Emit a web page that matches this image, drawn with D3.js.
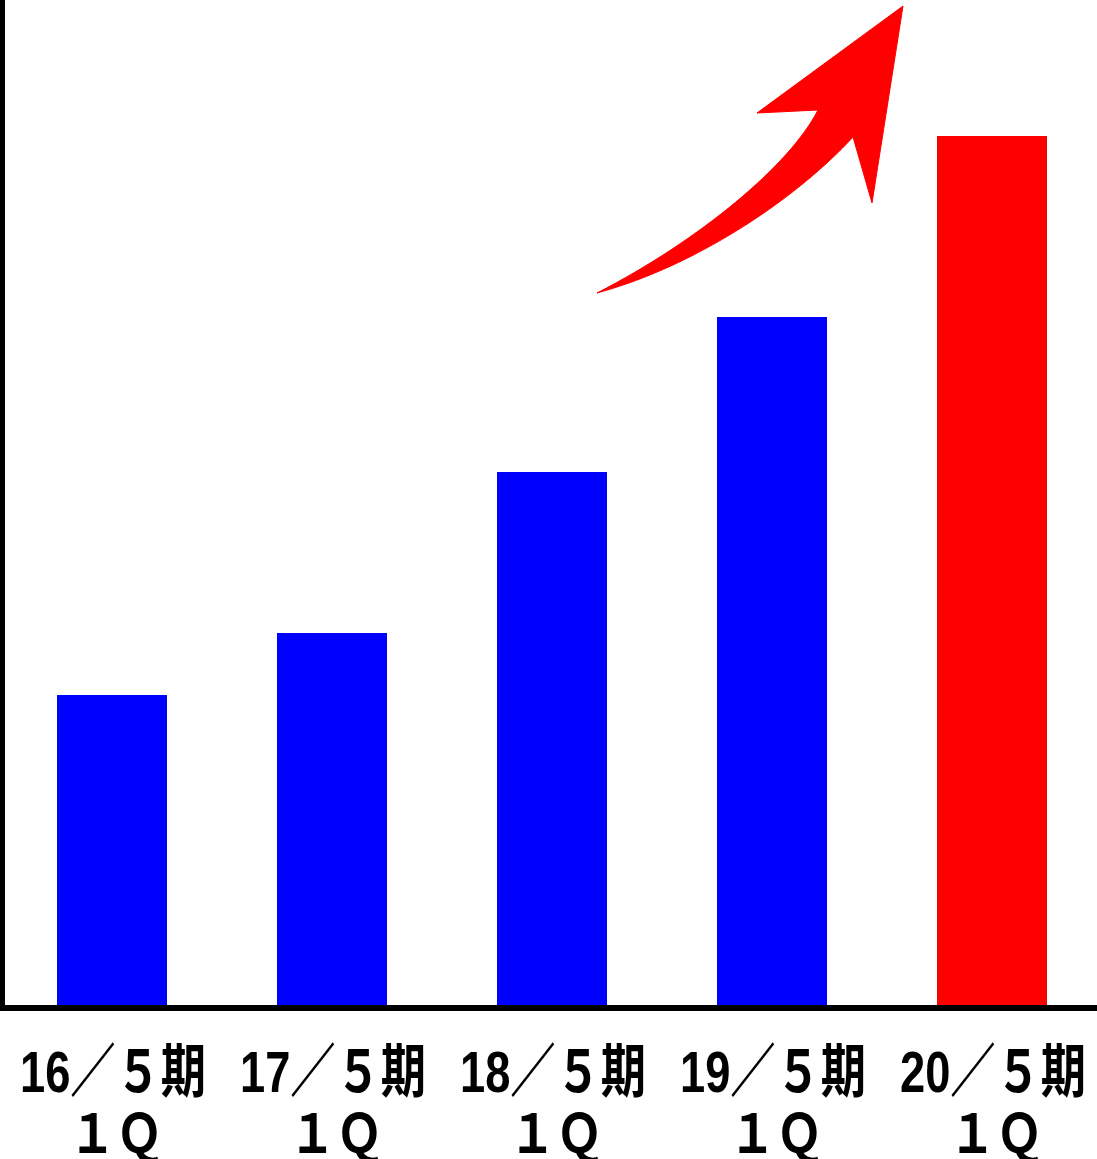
<!DOCTYPE html>
<html>
<head>
<meta charset="utf-8">
<script src="https://cdn.jsdelivr.net/npm/d3@7"></script>
<style>
  body { margin: 0; background: #fff; }
  text { font-family: "Noto Sans CJK JP", sans-serif; font-weight: bold; }
</style>
</head>
<body>
<div id="chart"></div>
<script>
var years = ["16", "17", "18", "19", "20"];
var periods = ["16／５期", "17／５期", "18／５期", "19／５期", "20／５期"];
var quarter = ["１Ｑ", "１Ｑ", "１Ｑ", "１Ｑ", "１Ｑ"];
var values = [31.0, 37.2, 53.3, 68.8, 86.9];
var colors = ["#0000ff", "#0000ff", "#0000ff", "#0000ff", "#ff0000"];

var svgWidth = 1097;
var svgHeight = 1159;
var baseY = 1005;

var svg = d3.select("#chart")
    .append("svg")
    .attr("width", svgWidth)
    .attr("height", svgHeight);

var x = d3.scaleBand()
    .domain(periods)
    .range([2, 1102])
    .paddingInner(0.5)
    .paddingOuter(0.25);

var y = d3.scaleLinear()
    .domain([0, 100])
    .range([baseY, 5]);

// bars
svg.selectAll("rect.bar")
    .data(values)
    .enter()
    .append("rect")
    .attr("class", "bar")
    .attr("x", (d, i) => x(periods[i]))
    .attr("y", d => y(d))
    .attr("width", x.bandwidth())
    .attr("height", d => baseY - y(d))
    .attr("fill", (d, i) => colors[i]);

// axes (plain lines, no ticks)
svg.append("line")
    .attr("x1", 2.5).attr("x2", 2.5)
    .attr("y1", 0).attr("y2", 1011)
    .attr("stroke", "#000").attr("stroke-width", 5);

svg.append("line")
    .attr("x1", 0).attr("x2", svgWidth)
    .attr("y1", 1008).attr("y2", 1008)
    .attr("stroke", "#000").attr("stroke-width", 6);

// labels: half-width year digits + full-width rest, squeezed sideways
var periodText = svg.selectAll("text.period")
    .data(periods)
    .enter()
    .append("text")
    .attr("class", "period")
    .attr("transform", d => `translate(${x(d) + x.bandwidth() / 2 + 1}, 1092) scale(0.78, 1)`)
    .attr("text-anchor", "middle")
    .attr("font-size", "58px");

periodText.append("tspan")
    .style("font-family", "'Liberation Sans', Arial, sans-serif")
    .text((d, i) => years[i]);

periodText.append("tspan")
    .text(d => d.slice(2));

svg.selectAll("text.quarter")
    .data(quarter)
    .enter()
    .append("text")
    .attr("class", "quarter")
    .attr("transform", (d, i) => `translate(${x(periods[i]) + x.bandwidth() / 2 + 4}, 1153) scale(0.87, 1)`)
    .attr("text-anchor", "middle")
    .attr("font-size", "54px")
    .text(d => d);

// red rising arrow: head polygon plus two bezier edges for the shaft
var arrow = d3.path();
arrow.moveTo(903, 6);
arrow.lineTo(872, 203);
arrow.lineTo(853, 137);
arrow.bezierCurveTo(800, 195, 700, 265, 597, 293);
arrow.bezierCurveTo(700, 240, 790, 165, 818, 110);
arrow.lineTo(757, 113);
arrow.closePath();

svg.append("path")
    .attr("d", arrow.toString())
    .attr("fill", "#ff0000")
    .attr("stroke", "#ff0000")
    .attr("stroke-width", 1);
</script>
</body>
</html>
